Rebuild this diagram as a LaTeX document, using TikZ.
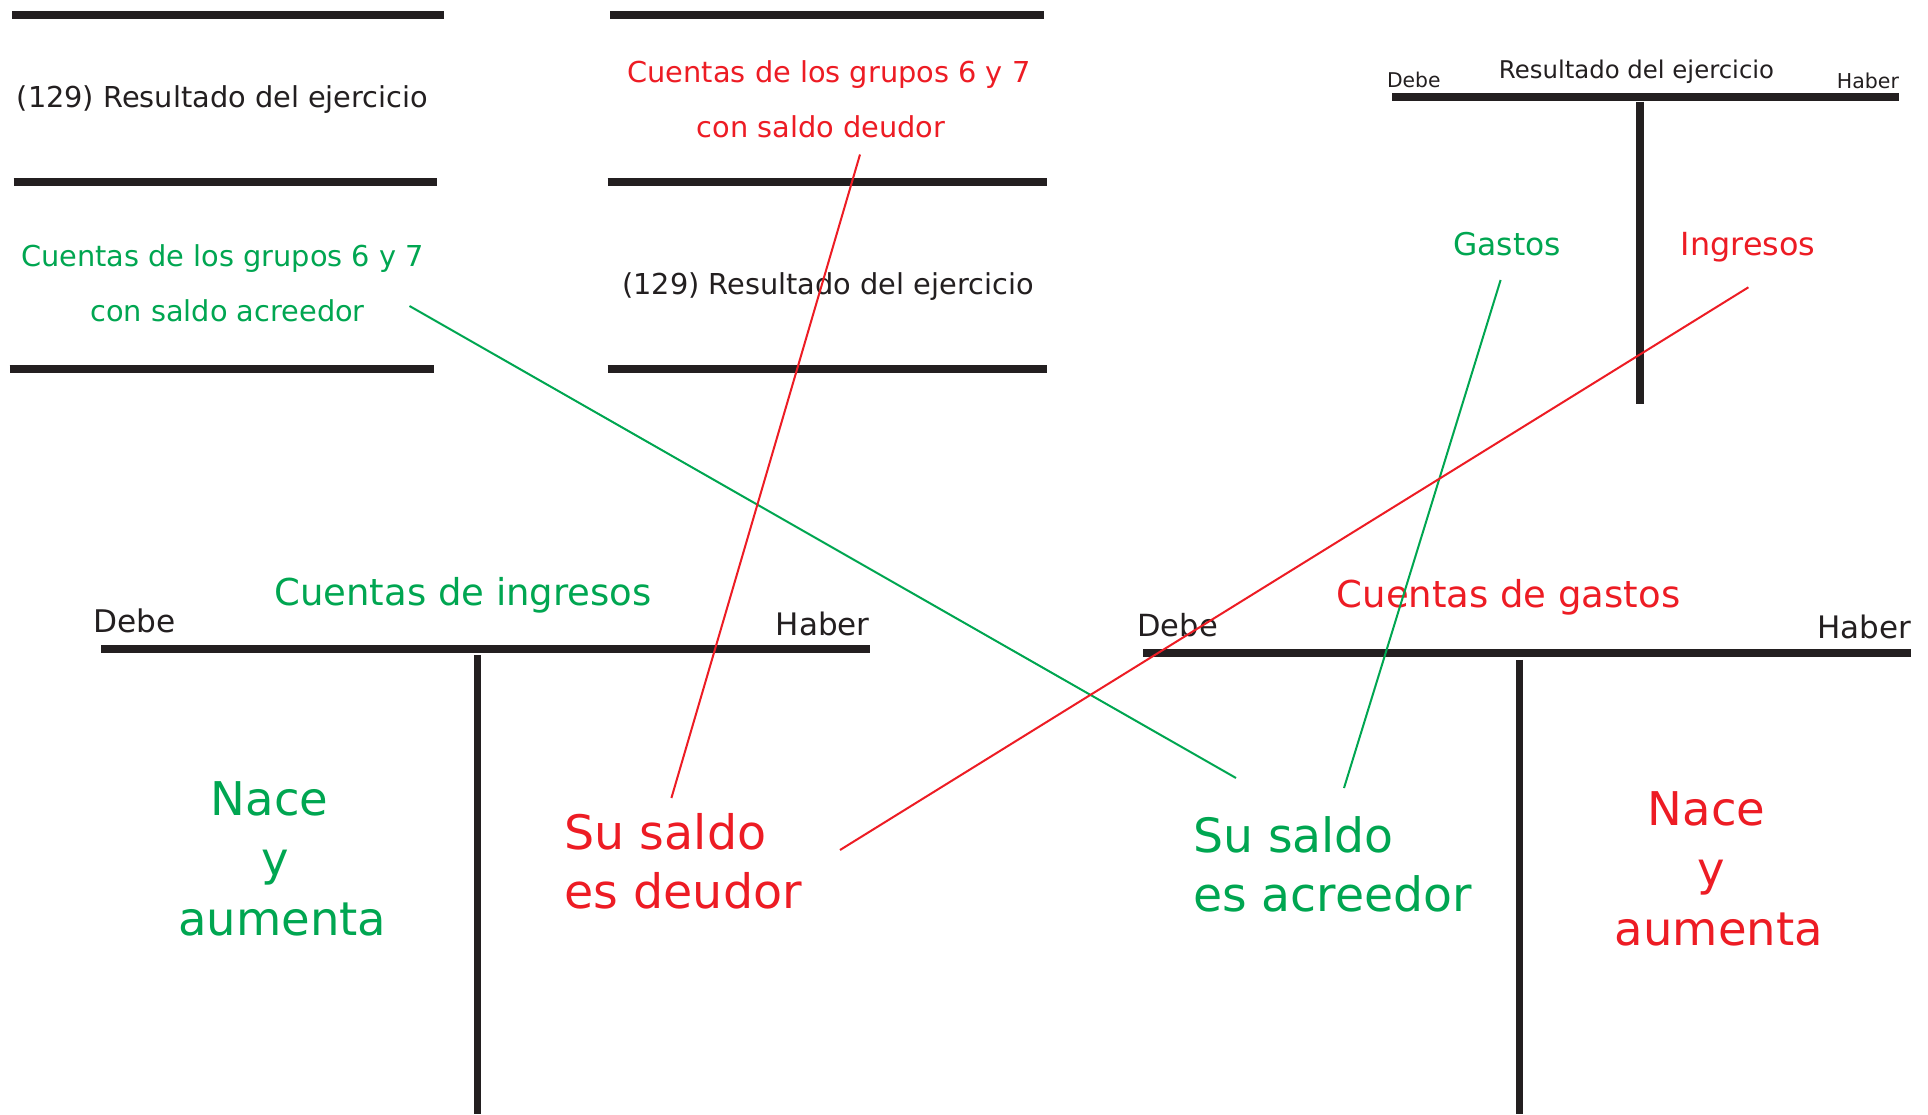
\documentclass[tikz,border=0pt]{standalone}
\usepackage{fontspec}
\setmainfont{DejaVu Sans}
\definecolor{tgreen}{RGB}{0,166,81}
\definecolor{tred}{RGB}{237,28,36}
\definecolor{tblack}{RGB}{35,31,32}
\begin{document}
\begin{tikzpicture}[x=1pt,y=-1pt,
  bar/.style={draw=tblack,line width=8pt},
  tbar/.style={draw=tblack,line width=7.5pt},
  vbar/.style={draw=tblack,line width=7pt},
  lbl/.style={inner sep=0pt,outer sep=0pt,text=tblack},
  fs/.style={font=\fontsize{#1}{#1}\selectfont},
  gtxt/.style={lbl,text=tgreen},
  rtxt/.style={lbl,text=tred},
  glink/.style={draw=tgreen,line width=2pt},
  rlink/.style={draw=tred,line width=2pt}
]
\useasboundingbox (0,0) rectangle (1928,1114);
\fill[white] (0,0) rectangle (1928,1114);

% ---- top-left block
\draw[bar] (12,14.7) -- (444,14.7);
\draw[bar] (13.5,182) -- (436.5,182);
\draw[bar] (9.5,368.5) -- (434,368.5);
\node[lbl,fs=28.8,anchor=base] (res1) at (222.5,107) {(129) Resultado del ejercicio};
\node[gtxt,fs=28.8,anchor=base] (acr1) at (222.5,266) {Cuentas de los grupos 6 y 7};
\node[gtxt,fs=28.8,anchor=base] (acr2) at (227.5,321) {con saldo acreedor};

% ---- top-middle block
\draw[bar] (610,14.7) -- (1044,14.7);
\draw[bar] (607.6,182) -- (1047,182);
\draw[bar] (607.6,368.5) -- (1047,368.5);
\node[rtxt,fs=28.8,anchor=base] (deu1) at (829,82) {Cuentas de los grupos 6 y 7};
\node[rtxt,fs=28.8,anchor=base] (deu2) at (821,137) {con saldo deudor};
\node[lbl,fs=28.8,anchor=base] (res2) at (828,294) {(129) Resultado del ejercicio};

% ---- top-right T account
\draw[tbar] (1392,97) -- (1899,97);
\draw[tbar] (1640,101.7) -- (1640,404);
\node[lbl,fs=24.4,anchor=base] (rtitle) at (1636.5,78.3) {Resultado del ejercicio};
\node[lbl,fs=20.3,anchor=base west] (rdebe) at (1387,87.3) {Debe};
\node[lbl,fs=20.5,anchor=base east] (rhaber) at (1899,88.3) {Haber};
\node[gtxt,fs=31.3,anchor=base] (gastos) at (1507,255.5) {Gastos};
\node[rtxt,fs=31.8,anchor=base] (ingresos) at (1748,255.5) {Ingresos};

% ---- bottom-left T account (ingresos)
\draw[tbar] (101,649) -- (869.6,649);
\draw[vbar] (477.7,655.4) -- (477.7,1114);
\node[gtxt,fs=37,anchor=base] (cing) at (463,605) {Cuentas de ingresos};
\node[lbl,fs=31.2,anchor=base west] (idebe) at (93.5,632) {Debe};
\node[lbl,fs=31,anchor=base east] (ihaber) at (869.6,635) {Haber};
\node[gtxt,fs=46.5,anchor=base] (inace) at (269.5,815.5) {Nace};
\node[gtxt,fs=46.5,anchor=base] (iy) at (275.5,875.5) {y};
\node[gtxt,fs=46.5,anchor=base] (iaum) at (282.3,935.6) {aumenta};
\node[rtxt,fs=47.5,anchor=base west] (isu) at (564.6,849.5) {Su saldo};
\node[rtxt,fs=47.5,anchor=base west] (ies) at (564.6,908) {es deudor};

% ---- bottom-right T account (gastos)
\draw[tbar] (1143,653) -- (1911,653);
\draw[vbar] (1519.4,659.8) -- (1519.4,1114);
\node[rtxt,fs=37,anchor=base] (cgas) at (1508.5,607) {Cuentas de gastos};
\node[lbl,fs=30.5,anchor=base west] (gdebe) at (1137.5,636) {Debe};
\node[lbl,fs=31,anchor=base east] (ghaber) at (1911,638) {Haber};
\node[gtxt,fs=47.3,anchor=base west] (gsu) at (1193,852) {Su saldo};
\node[gtxt,fs=47.3,anchor=base west] (ges) at (1193,911.8) {es acreedor};
\node[rtxt,fs=46.5,anchor=base] (gnace) at (1706.5,825.7) {Nace};
\node[rtxt,fs=46.5,anchor=base] (gy) at (1711,885.8) {y};
\node[rtxt,fs=46.5,anchor=base] (gaum) at (1719,945.9) {aumenta};

% ---- connector end points
\coordinate (acrS) at (409.5,306);
\coordinate (acrE) at (1236,778);
\coordinate (deuS) at (860,154.5);
\coordinate (deuE) at (671.4,798);
\coordinate (gasS) at (1500.6,280);
\coordinate (gasE) at (1344,788);
\coordinate (ingS) at (1748.4,287.3);
\coordinate (ingE) at (840,850);

\draw[glink] (acrS) -- (acrE);
\draw[rlink] (deuS) -- (deuE);
\draw[glink] (gasS) -- (gasE);
\draw[rlink] (ingS) -- (ingE);
\end{tikzpicture}
\end{document}
